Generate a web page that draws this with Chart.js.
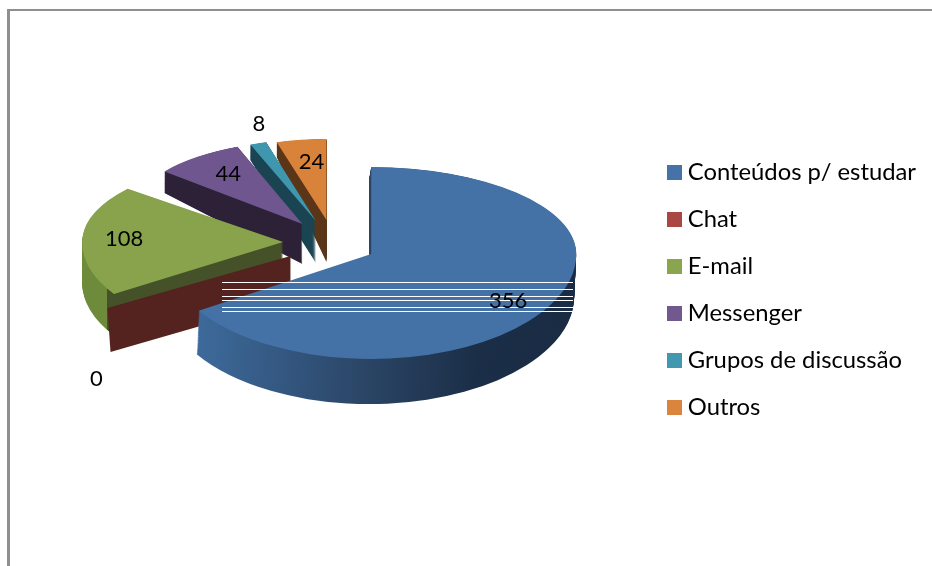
<!DOCTYPE html>
<html><head><meta charset="utf-8">
<style>html,body{margin:0;padding:0;background:#fff}canvas{display:block}</style>
<script src="https://cdn.jsdelivr.net/npm/chart.js@4"></script>
</head><body><canvas id="c" width="932" height="566"></canvas>
<script>
const categories = ["Conteúdos p/ estudar","Chat","E-mail","Messenger","Grupos de discussão","Outros"];
const values = [356,0,108,44,8,24];
const legendColors = ["#4572A7","#AA4643","#89A54E","#71588F","#4198AF","#DB843D"];
const surfaceColors = ["#4471A6","#AA4643","#88A34C","#70568F","#3E97AF","#D9823A"];
const wallStops = [
 [[0,"#3D6A9B"],[.08,"#3D6A9B"],[.5,"#2A4464"],[.76,"#1B2E47"],[1,"#1A2C44"]],
 [[0,"#54231F"],[1,"#54231F"]],
 [[0,"#6E8B3B"],[.062,"#6E8B3B"],[.062,"#455128"],[1,"#455128"]],
 [[0,"#2C2137"],[1,"#2C2137"]],
 [[0,"#1B4452"],[1,"#1B4452"]],
 [[0,"#5A3517"],[1,"#5A3517"]]
];
// presentation of the pseudo-3D pie
const pieCenter = {x:330,y:243}, explode = 47, explodeK = .5, radius = 205;
const apexShift = [0,0,0,0,1,3];
const scaleX = [1,1.06,.98,.87,.88,.88];
const upperK = [.424,.47,.41,.405,.40,.395];
const lowerK = [.512,.47,.47,.47,.47,.47];
const depth = [42,44,40,40,42,42];
const shiftX = [-2,0,0,0,0,0];
const paintOrder = [5,4,3,2,1,0];
const labelNudge = [[137,47],[-194,123],[-159,-3],[-74,-50],[-57,-97],[-15,-58]];
const scanlines = [282,289,296,300,307,311];

function apexOf(arc,i){
  const a=(arc.startAngle+arc.endAngle)/2;
  return {x:pieCenter.x+apexShift[i]+Math.cos(a)*explode, y:Math.round(pieCenter.y+Math.sin(a)*explode*explodeK)};
}
function wallFill(ctx,arc,i){
  const g=ctx.createLinearGradient(arc.x-radius,0,arc.x+radius,0);
  wallStops[i].forEach(s=>g.addColorStop(s[0],s[1]));
  return g;
}
function drawLayer(chart,arc,i,t,fill){
  const ctx=chart.ctx, ap=apexOf(arc,i), d=Math.round(depth[i]*t);
  const keep=arc.options;
  arc.options=Object.assign(Object.create(keep),{backgroundColor:fill,borderColor:fill,borderWidth:0,offset:0});
  const fy=ap.y+d;
  [[upperK[i]*(1+t*.35),0,fy],[lowerK[i]*(1+t*.03),fy,chart.height-fy]].forEach(p=>{
    ctx.save();
    ctx.beginPath();ctx.rect(0,p[1],chart.width,p[2]);ctx.clip();
    ctx.translate(ap.x+shiftX[i]*t,fy);
    ctx.scale(scaleX[i],p[0]);
    ctx.translate(-arc.x,-arc.y);
    arc.draw(ctx);
    ctx.restore();
  });
  arc.options=keep;
}
function drawEmptyWall(chart,arc,i){
  // a zero-value slice shows only its cut face
  const ctx=chart.ctx, ap=apexOf(arc,i), a=arc.startAngle;
  const tx=ap.x+Math.cos(a)*radius*scaleX[i], ty=ap.y+Math.sin(a)*radius*lowerK[i];
  ctx.save();
  ctx.fillStyle=wallStops[i][0][1];
  ctx.beginPath();
  ctx.moveTo(ap.x,ap.y);ctx.lineTo(tx,ty);ctx.lineTo(tx+3,ty+depth[i]);ctx.lineTo(ap.x,ap.y+depth[i]);
  ctx.closePath();ctx.fill();
  ctx.restore();
}
const pie3d={
  id:'pie3d',
  beforeDraw(chart){
    const ctx=chart.ctx;
    ctx.save();
    ctx.fillStyle='#fff';ctx.fillRect(0,0,chart.width,chart.height);
    ctx.fillStyle='#8f8f8f';
    ctx.fillRect(7,9,chart.width-7,2);
    ctx.fillRect(7,9,3,chart.height-9);
    ctx.restore();
  },
  beforeDatasetDraw(chart,args){
    const ctx=chart.ctx, arcs=chart.getDatasetMeta(args.index).data;
    paintOrder.forEach(i=>{
      const arc=arcs[i];
      if(values[i]===0){drawEmptyWall(chart,arc,i);return;}
      const f=wallFill(ctx,arc,i), n=depth[i];
      for(let k=n;k>0;k--) drawLayer(chart,arc,i,k/n,f);
      drawLayer(chart,arc,i,0,surfaceColors[i]);
    });
    return false;
  },
  afterDatasetsDraw(chart){
    const ctx=chart.ctx, arcs=chart.getDatasetMeta(0).data;
    ctx.save();
    ctx.fillStyle='#fff';
    scanlines.forEach(y=>ctx.fillRect(222,y,351,1));
    ctx.fillStyle='#000';
    ctx.font='22px Lato';
    ctx.textAlign='center';ctx.textBaseline='middle';
    arcs.forEach((arc,i)=>{
      const ap=apexOf(arc,i);
      ctx.fillText(String(values[i]),ap.x+labelNudge[i][0],ap.y+labelNudge[i][1]);
    });
    ctx.restore();
  }
};
function swatch(color){
  const s=document.createElement('canvas');s.width=15;s.height=15;
  const x=s.getContext('2d');x.fillStyle=color;x.fillRect(0,0,15,15);
  return s;
}
const swatches=legendColors.map(swatch);
new Chart(document.getElementById('c'),{
  type:'pie',
  data:{labels:categories,datasets:[{data:values,backgroundColor:surfaceColors,borderWidth:0}]},
  plugins:[pie3d],
  options:{
    responsive:false,animation:false,events:[],
    radius:radius,
    layout:{padding:{top:13,right:6}},
    plugins:{
      tooltip:{enabled:false},
      legend:{
        position:'right',
        labels:{
          color:'#000',
          font:{family:'Lato',size:23.8},
          padding:23.2,
          usePointStyle:true,
          pointStyleWidth:3,
          generateLabels(chart){
            const base=Chart.overrides.pie.plugins.legend.labels.generateLabels(chart);
            return base.map((l,i)=>Object.assign(l,{pointStyle:swatches[i],fontColor:'#000',lineWidth:0}));
          }
        }
      }
    }
  }
});
</script></body></html>
